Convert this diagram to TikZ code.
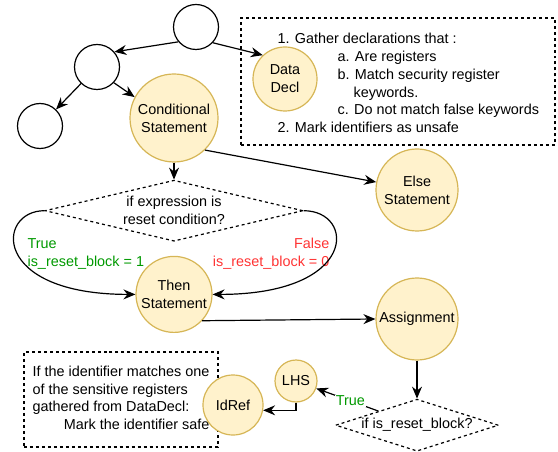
\documentclass[tikz,border=0pt]{standalone}
\usepackage{fontspec}
\setmainfont{Liberation Sans}
\usetikzlibrary{positioning}
\usetikzlibrary{arrows.meta}
\usetikzlibrary{shapes.geometric}

\definecolor{astfill}{HTML}{FFF2CC}
\definecolor{astdraw}{HTML}{D6B656}
\definecolor{truegreen}{HTML}{009900}
\definecolor{falsered}{HTML}{FF3333}

\begin{document}
\begin{tikzpicture}[
    x=1bp, y=-1bp,
    font=\fontsize{14.4bp}{17.8bp}\selectfont,
    line width=1.2bp,
    plain/.style={circle, draw=black, fill=white, minimum size=45bp, inner sep=0},
    ast/.style={circle, align=center, draw=astdraw, fill=astfill, inner sep=0},
    check/.style={diamond, draw=black, dashed, align=center, inner sep=0},
    note/.style={rectangle, draw=black, dashed},
    link/.style={-{Stealth[length=12bp, width=10bp, inset=4bp]}, draw=black}
]
    \useasboundingbox (0,0) rectangle (558,452);

    \node[plain] (root) at (196,27) {};
    \node[plain] (mid) at (97,67) {};
    \node[plain] (leaf) at (40,126) {};
    \node[ast, minimum size=88bp] (cnd) at (174,118) {Conditional\\Statement};

    \node[note, minimum width=314bp, minimum height=127bp] (gather) at (398,81.5) {};
    \node[ast, minimum size=64bp] (decl) at (285,79) {Data\\Decl};
    \node[align=left, anchor=west, inner sep=0] (steps) at (277,83) {1. Gather declarations that :\\
        \hspace*{60bp}a. Are registers\\
        \hspace*{60bp}b. Match security register\\
        \hspace*{76bp}keywords.\\
        \hspace*{60bp}c. Do not match false keywords\\
        2. Mark identifiers as unsafe};

    \node[ast, minimum size=82bp] (else) at (417,190) {Else\\Statement};
    \node[check, minimum width=258bp, minimum height=61bp, aspect=4.2] (reset) [below=17bp of cnd] {if expression is\\reset condition?};
    \node[ast, minimum size=76bp] (then) [below=14bp of reset] {Then\\Statement};

    \node[text=truegreen, align=left, anchor=west, inner sep=0] (yes) at (27,254) {True\\is\_reset\_block = 1};
    \node[text=falsered, align=right, anchor=east, inner sep=0] (no) at (330,253.5) {False\\is\_reset\_block = 0};

    \node[ast, minimum size=82bp] (asg) at (417,319) {Assignment};
    \node[check, minimum width=163bp, minimum height=52bp, aspect=3.1] (blk) [below=38bp of asg] {if is\_reset\_block?};

    \node[note, minimum width=194bp, minimum height=95bp, inner sep=0] (safe) at (121,399.5) {\begin{tabular}{@{}l@{}}
        If the identifier matches one\\
        of the sensitive registers\\
        gathered from DataDecl:\\
        \multicolumn{1}{@{}r@{}}{Mark the identifier safe}
    \end{tabular}};
    \node[ast, minimum size=42bp] (lhs) at (296,381) {LHS};
    \node[ast, minimum size=60bp] (idref) at (233,405) {IdRef};

    % tree edges
    \draw[link] (root.220) -- (mid.41);
    \draw[link] (root.317) -- (decl.133);
    \draw[link] (mid) -- (leaf);
    \draw[link] (mid.317) -- (cnd.152);
    \draw[link] (cnd.314) -- (else.169);
    \draw[link] (cnd) -- (reset);

    % branches
    \draw[link] (reset.west) .. controls +(-48,0) and +(-145,0) .. (then.west);
    \draw[link] (reset.east) .. controls +(52,0) and +(146,0) .. (then.east);

    \draw[link] (then.-43) -- (asg.west);
    \draw[link] (asg) -- (blk);
    \draw[link] (blk) -- node[pos=0.45, fill=white, text=truegreen, inner sep=1bp] (yes2) {True} (lhs);
    \draw[link] (lhs.south) |- (idref.-10);

\end{tikzpicture}
\end{document}
